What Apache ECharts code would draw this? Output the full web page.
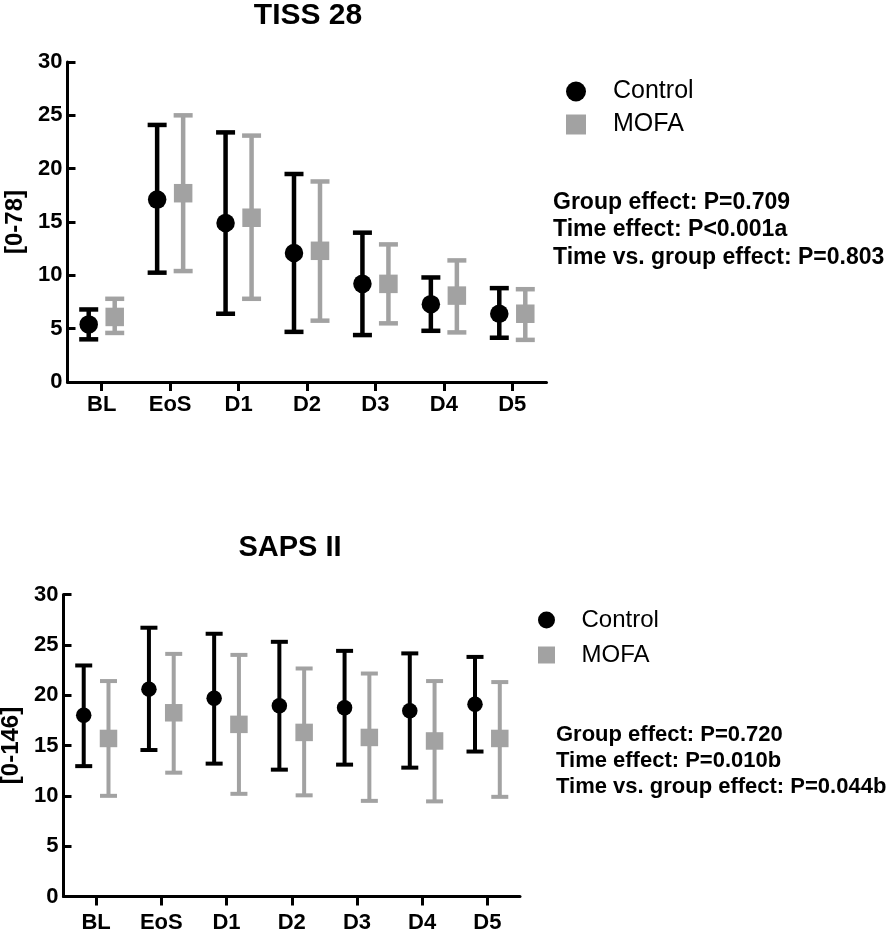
<!DOCTYPE html>
<html>
<head>
<meta charset="utf-8">
<script src="https://cdn.jsdelivr.net/npm/echarts@6/dist/echarts.min.js"></script>
<style>
html,body{margin:0;padding:0;background:#fff;}
#chart{width:896px;height:933px;}
</style>
</head>
<body>
<div id="chart"></div>
<script>
const categories = ['BL', 'EoS', 'D1', 'D2', 'D3', 'D4', 'D5'];
const yTicks = [0, 5, 10, 15, 20, 25, 30];

// TISS 28
const tissControlMean = [5.4, 17.1, 14.9, 12.1, 9.2, 7.3, 6.4];
const tissControlLow  = [4.0, 10.25, 6.4, 4.7, 4.4, 4.8, 4.15];
const tissControlHigh = [6.8, 24.1, 23.4, 19.5, 14.0, 9.8, 8.8];
const tissMofaMean = [6.1, 17.7, 15.4, 12.3, 9.2, 8.1, 6.4];
const tissMofaLow  = [4.6, 10.4, 7.8, 5.75, 5.5, 4.65, 3.95];
const tissMofaHigh = [7.8, 25.0, 23.1, 18.8, 12.9, 11.4, 8.7];

// SAPS II
const sapsControlMean = [18.0, 20.6, 19.7, 18.95, 18.75, 18.45, 19.1];
const sapsControlLow  = [12.95, 14.55, 13.2, 12.6, 13.1, 12.8, 14.4];
const sapsControlHigh = [22.95, 26.7, 26.1, 25.3, 24.4, 24.15, 23.8];
const sapsMofaMean = [15.7, 18.25, 17.1, 16.3, 15.8, 15.45, 15.7];
const sapsMofaLow  = [10.0, 12.3, 10.2, 10.05, 9.5, 9.45, 9.9];
const sapsMofaHigh = [21.4, 24.1, 24.0, 22.65, 22.15, 21.4, 21.3];

const tissStats = ['Group effect: P=0.709', 'Time effect: P<0.001a', 'Time vs. group effect: P=0.803'];
const sapsStats = ['Group effect: P=0.720', 'Time effect: P=0.010b', 'Time vs. group effect: P=0.044b'];

const FONT = '"Liberation Sans", Arial, Helvetica, sans-serif';
const BLACK = '#000000';
const GREY = '#a2a2a2';
const SQUARE = 'path://M0,0H1V1H0Z';

function rows(mean, lo, hi) {
  return categories.map((c, i) => [i, mean[i], lo[i], hi[i]]);
}

function makeRender(sign, shape, markSize, capW, lw, color) {
  return function (params, api) {
    const x = api.value(0);
    const band = api.size([1, 0])[0];
    const off = sign * band * 0.19;
    const pm = api.coord([x, api.value(1)]);
    const pl = api.coord([x, api.value(2)]);
    const ph = api.coord([x, api.value(3)]);
    const cx = pm[0] + off;
    const st = { stroke: color, lineWidth: lw, fill: null };
    const children = [
      { type: 'line', shape: { x1: cx, y1: pl[1], x2: cx, y2: ph[1] }, style: st },
      { type: 'line', shape: { x1: cx - capW / 2, y1: pl[1], x2: cx + capW / 2, y2: pl[1] }, style: st },
      { type: 'line', shape: { x1: cx - capW / 2, y1: ph[1], x2: cx + capW / 2, y2: ph[1] }, style: st }
    ];
    if (shape === 'circle') {
      children.push({ type: 'circle', shape: { cx: cx, cy: pm[1], r: markSize / 2 }, style: { fill: color } });
    } else {
      children.push({ type: 'rect', shape: { x: cx - markSize / 2, y: pm[1] - markSize / 2, width: markSize, height: markSize }, style: { fill: color } });
    }
    return { type: 'group', children: children };
  };
}

function yAxis(gridIndex, name, nameGap) {
  return {
    gridIndex: gridIndex, type: 'value', min: 0, max: 30, interval: 5,
    name: name, nameLocation: 'middle', nameRotate: 90, nameGap: nameGap,
    nameTextStyle: { fontFamily: FONT, fontWeight: 'bold', fontSize: 24, color: BLACK },
    axisLine: { show: true, lineStyle: { color: BLACK, width: 3 } },
    axisTick: { show: true, inside: true, length: 8, lineStyle: { color: BLACK, width: 3 } },
    splitLine: { show: false },
    axisLabel: { fontFamily: FONT, fontWeight: 'bold', fontSize: 22, color: BLACK, margin: 5,
      formatter: v => (yTicks.indexOf(v) >= 0 ? String(v) : '') }
  };
}

function xAxis(gridIndex, margin) {
  return {
    gridIndex: gridIndex, type: 'category', data: categories, boundaryGap: true,
    axisLine: { show: true, lineStyle: { color: BLACK, width: 3 } },
    axisTick: { show: true, alignWithLabel: true, length: 9, lineStyle: { color: BLACK, width: 3 } },
    splitLine: { show: false },
    axisLabel: { fontFamily: FONT, fontWeight: 'bold', fontSize: 22, color: BLACK, margin: margin, interval: 0 }
  };
}

function series(name, idx, data, sign, shape, size, capW, lw, color) {
  return {
    type: 'custom', name: name, xAxisIndex: idx, yAxisIndex: idx,
    itemStyle: { color: color },
    encode: { x: 0, y: 1 },
    data: data,
    renderItem: makeRender(sign, shape, size, capW, lw, color),
    silent: true
  };
}

const chart = echarts.init(document.getElementById('chart'), null, { renderer: 'canvas' });
chart.setOption({
  backgroundColor: '#ffffff',
  animation: false,
  title: [
    { text: 'TISS 28', left: 308, top: 1, textAlign: 'center', padding: 0,
      textStyle: { fontFamily: FONT, fontWeight: 'bold', fontSize: 30, color: BLACK } },
    { text: 'SAPS II', left: 290, top: 533, textAlign: 'center', padding: 0,
      textStyle: { fontFamily: FONT, fontWeight: 'bold', fontSize: 29, color: BLACK } },
    { text: tissStats.join('\n'), left: 553, top: 188.5, padding: 0,
      textStyle: { fontFamily: FONT, fontWeight: 'bold', fontSize: 23, lineHeight: 27.5, color: BLACK } },
    { text: sapsStats.join('\n'), left: 556, top: 721.5, padding: 0,
      textStyle: { fontFamily: FONT, fontWeight: 'bold', fontSize: 22, lineHeight: 26, color: BLACK } }
  ],
  legend: [
    { orient: 'vertical', left: 566, top: 79, itemWidth: 64, itemHeight: 20, itemGap: 8,
      selectedMode: false, padding: 0,
      textStyle: { fontFamily: FONT, fontSize: 25, color: BLACK },
      data: [{ name: 'Control', icon: 'circle' }, { name: 'MOFA', icon: SQUARE }] },
    { orient: 'vertical', left: 538, top: 608, itemWidth: 60, itemHeight: 17, itemGap: 11,
      selectedMode: false, padding: 0,
      textStyle: { fontFamily: FONT, fontSize: 24, color: BLACK },
      data: [{ name: 'Control', icon: 'circle' }, { name: 'MOFA', icon: SQUARE }] }
  ],
  grid: [
    { left: 67.5, top: 62, width: 479, height: 320, containLabel: false, outerBoundsMode: 'none' },
    { left: 63.5, top: 594.5, width: 456.5, height: 302, containLabel: false, outerBoundsMode: 'none' }
  ],
  xAxis: [xAxis(0, 12), xAxis(1, 15)],
  yAxis: [yAxis(0, '[0-78]', 39), yAxis(1, '[0-146]', 34)],
  series: [
    series('Control', 0, rows(tissControlMean, tissControlLow, tissControlHigh), -1, 'circle', 18.5, 19, 4.5, BLACK),
    series('MOFA', 0, rows(tissMofaMean, tissMofaLow, tissMofaHigh), 1, 'square', 18.5, 19, 4.5, GREY),
    series('Control', 1, rows(sapsControlMean, sapsControlLow, sapsControlHigh), -1, 'circle', 15.5, 17, 4, BLACK),
    series('MOFA', 1, rows(sapsMofaMean, sapsMofaLow, sapsMofaHigh), 1, 'square', 17.5, 17, 4, GREY)
  ]
});
</script>
</body>
</html>
